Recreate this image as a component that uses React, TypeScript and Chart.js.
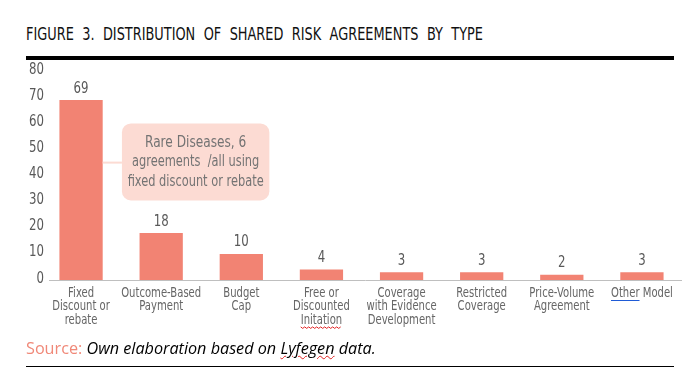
import React, { useEffect, useLayoutEffect, useRef } from "react";
import { Chart, registerables } from "chart.js";

Chart.register(...registerables);

const categories: string[][] = [
  ["Fixed", "Discount or", "rebate"],
  ["Outcome-Based", "Payment"],
  ["Budget", "Cap"],
  ["Free or", "Discounted", "Initation"],
  ["Coverage", "with Evidence", "Development"],
  ["Restricted", "Coverage"],
  ["Price-Volume", "Agreement"],
  ["Other Model"],
];
const values: number[] = [69, 18, 10, 4, 3, 3, 2, 3];
const yTicks: number[] = [0, 10, 20, 30, 40, 50, 60, 70, 80];
const noteLines: string[] = ["Rare Diseases, 6", "agreements  /all using", "fixed discount or rebate"];

const BAR = "#F28373";
const NOTE_FILL = "#FCDBD3";
const GRAY = "#595959";
const FAM = "'DejaVu Sans', sans-serif";
const LINE_H = 13.7;
const SX = 0.76;

function drawText(ctx: any, text: string, x: number, y: number, size: number, sx: number, align: string, color: string) {
  ctx.save();
  ctx.font = `${size}px ${FAM}`;
  ctx.fillStyle = color;
  ctx.textBaseline = "middle";
  ctx.textAlign = align;
  ctx.translate(x, y);
  ctx.scale(sx, 1);
  ctx.fillText(text, 0, 0);
  ctx.restore();
}

function textW(ctx: any, text: string, size: number, sx: number) {
  ctx.save();
  ctx.font = `${size}px ${FAM}`;
  const w = ctx.measureText(text).width * sx;
  ctx.restore();
  return w;
}

const overlay = {
  id: "overlay",
  afterDraw(chart: any) {
    const { ctx, chartArea, scales } = chart;
    const x = scales.x;
    const y = scales.y;
    ctx.save();
    // axis line
    ctx.strokeStyle = "#BFBFBF";
    ctx.lineWidth = 1;
    ctx.beginPath();
    ctx.moveTo(chartArea.left + 8, Math.round(chartArea.bottom) + 0.5);
    ctx.lineTo(chartArea.right, Math.round(chartArea.bottom) + 0.5);
    ctx.stroke();

    // y tick labels
    yTicks.forEach((v) => {
      drawText(ctx, String(v), chartArea.left + 3, y.getPixelForValue(v) - 1.5, 15.5, SX, "right", GRAY);
    });

    // x tick labels
    const xs = 80 / textW(ctx, "Outcome-Based", 14, 1);
    categories.forEach((lines, i) => {
      const cx = x.getPixelForTick(i);
      lines.forEach((t, k) => {
        drawText(ctx, t, cx, chartArea.bottom + 13 + k * LINE_H, 14, xs, "center", "#666666");
      });
    });

    // value labels
    const meta = chart.getDatasetMeta(0);
    meta.data.forEach((bar: any, i: number) => {
      drawText(ctx, String(values[i]), bar.x, bar.y - 11.5, 15.5, SX, "center", GRAY);
    });

    // annotation
    const bx0 = x.getPixelForValue(0.51);
    const bx1 = x.getPixelForValue(2.35);
    const cy = y.getPixelForValue(45);
    const by0 = y.getPixelForValue(60);
    const by1 = y.getPixelForValue(30.5);
    const firstBar = meta.data[0];
    ctx.strokeStyle = NOTE_FILL;
    ctx.lineWidth = 2;
    ctx.beginPath();
    ctx.moveTo(firstBar.x + firstBar.width / 2, cy);
    ctx.lineTo(bx0, cy);
    ctx.stroke();
    ctx.fillStyle = NOTE_FILL;
    ctx.beginPath();
    (ctx as any).roundRect(bx0, by0, bx1 - bx0, by1 - by0, 9);
    ctx.fill();
    const mid = (bx0 + bx1) / 2;
    noteLines.forEach((t, k) => {
      drawText(ctx, t, mid, cy + (k - 1) * 20, k === 0 ? 16 : 15, 0.76, "center", "#737373");
    });

    // "Other" blue underline
    {
      const cx = x.getPixelForTick(7);
      const full = textW(ctx, "Other Model", 14, xs);
      const w = textW(ctx, "Other", 14, xs);
      const sx0 = cx - full / 2;
      const uy = Math.round(chartArea.bottom + 13 + 6.5) + 0.5;
      ctx.strokeStyle = "#1F5BD6";
      ctx.lineWidth = 1;
      ctx.beginPath();
      ctx.moveTo(sx0, uy);
      ctx.lineTo(sx0 + w, uy);
      ctx.stroke();
    }
    // "Initation" red wavy underline
    {
      const cx = x.getPixelForTick(3);
      const w = textW(ctx, "Initation", 14, xs);
      const sx0 = cx - w / 2;
      const uy = chartArea.bottom + 13 + 2 * LINE_H + 6.5;
      ctx.strokeStyle = "#E02020";
      ctx.lineWidth = 1;
      ctx.beginPath();
      for (let px = 0; px <= w; px += 2) {
        const yy = uy + ((px / 2) % 2 === 0 ? 0 : 1.5);
        if (px === 0) ctx.moveTo(sx0 + px, yy);
        else ctx.lineTo(sx0 + px, yy);
      }
      ctx.stroke();
    }
    ctx.restore();
  },
};

function BarChart() {
  const ref = useRef<HTMLCanvasElement | null>(null);
  useEffect(() => {
    if (!ref.current) return;
    const chart = new Chart(ref.current, {
      type: "bar",
      data: {
        labels: categories,
        datasets: [
          {
            data: values,
            backgroundColor: BAR,
            barPercentage: 0.54,
            categoryPercentage: 1,
          },
        ],
      },
      options: {
        animation: false,
        responsive: false,
        maintainAspectRatio: false,
        layout: { padding: { top: 13.3, right: 16, left: 0, bottom: 0 } },
        plugins: { legend: { display: false }, tooltip: { enabled: false } },
        scales: {
          x: {
            grid: { display: false, drawTicks: false },
            border: { display: false },
            ticks: { display: false, autoSkip: false },
            afterFit: (s: any) => {
              s.height = 62;
            },
          },
          y: {
            min: 0,
            max: 80,
            afterBuildTicks: (s: any) => {
              s.ticks = yTicks.map((v) => ({ value: v }));
            },
            grid: { display: false, drawTicks: false },
            border: { display: false },
            ticks: { display: false },
            afterFit: (s: any) => {
              s.width = 41;
            },
          },
        },
      },
      plugins: [overlay],
    });
    return () => chart.destroy();
  }, []);
  return <canvas ref={ref} width={698} height={284} style={{ position: "absolute", left: 0, top: 58, width: 698, height: 284 }} />;
}

export default function App() {
  const titleRef = useRef<HTMLDivElement | null>(null);
  useLayoutEffect(() => {
    document.body.style.margin = "0";
    const el = titleRef.current;
    if (el) {
      const w = el.getBoundingClientRect().width;
      if (w > 0) el.style.transform = `scaleX(${457 / w})`;
    }
  }, []);
  return (
    <div style={{ position: "relative", width: 698, height: 377, background: "#fff", overflow: "hidden" }}>
      <div
        ref={titleRef}
        style={{
          position: "absolute",
          left: 26,
          top: 24,
          fontFamily: FAM,
          fontSize: 18,
          color: "#111",
          wordSpacing: 6,
          whiteSpace: "nowrap",
          lineHeight: "20px",
          transformOrigin: "0 0",
        }}
      >
        FIGURE 3. DISTRIBUTION OF SHARED RISK AGREEMENTS BY TYPE
      </div>
      <BarChart />
      <div style={{ position: "absolute", left: 26, top: 56, width: 648, height: 4, background: "#000" }} />
      <div
        style={{
          position: "absolute",
          left: 26,
          top: 337,
          fontFamily: "'Open Sans', 'DejaVu Sans', sans-serif",
          fontSize: 16.2,
          lineHeight: "22px",
          whiteSpace: "nowrap",
          color: "#000",
        }}
      >
        <span style={{ color: "#F08878" }}>Source: </span>
        <span style={{ fontStyle: "italic" }}>
          Own elaboration based on{" "}
          <span style={{ textDecoration: "underline wavy #E02020", textDecorationThickness: 1 }}>Lyfegen</span> data.
        </span>
      </div>
      <div style={{ position: "absolute", left: 26, top: 366, width: 648, height: 1, background: "#000" }} />
    </div>
  );
}
